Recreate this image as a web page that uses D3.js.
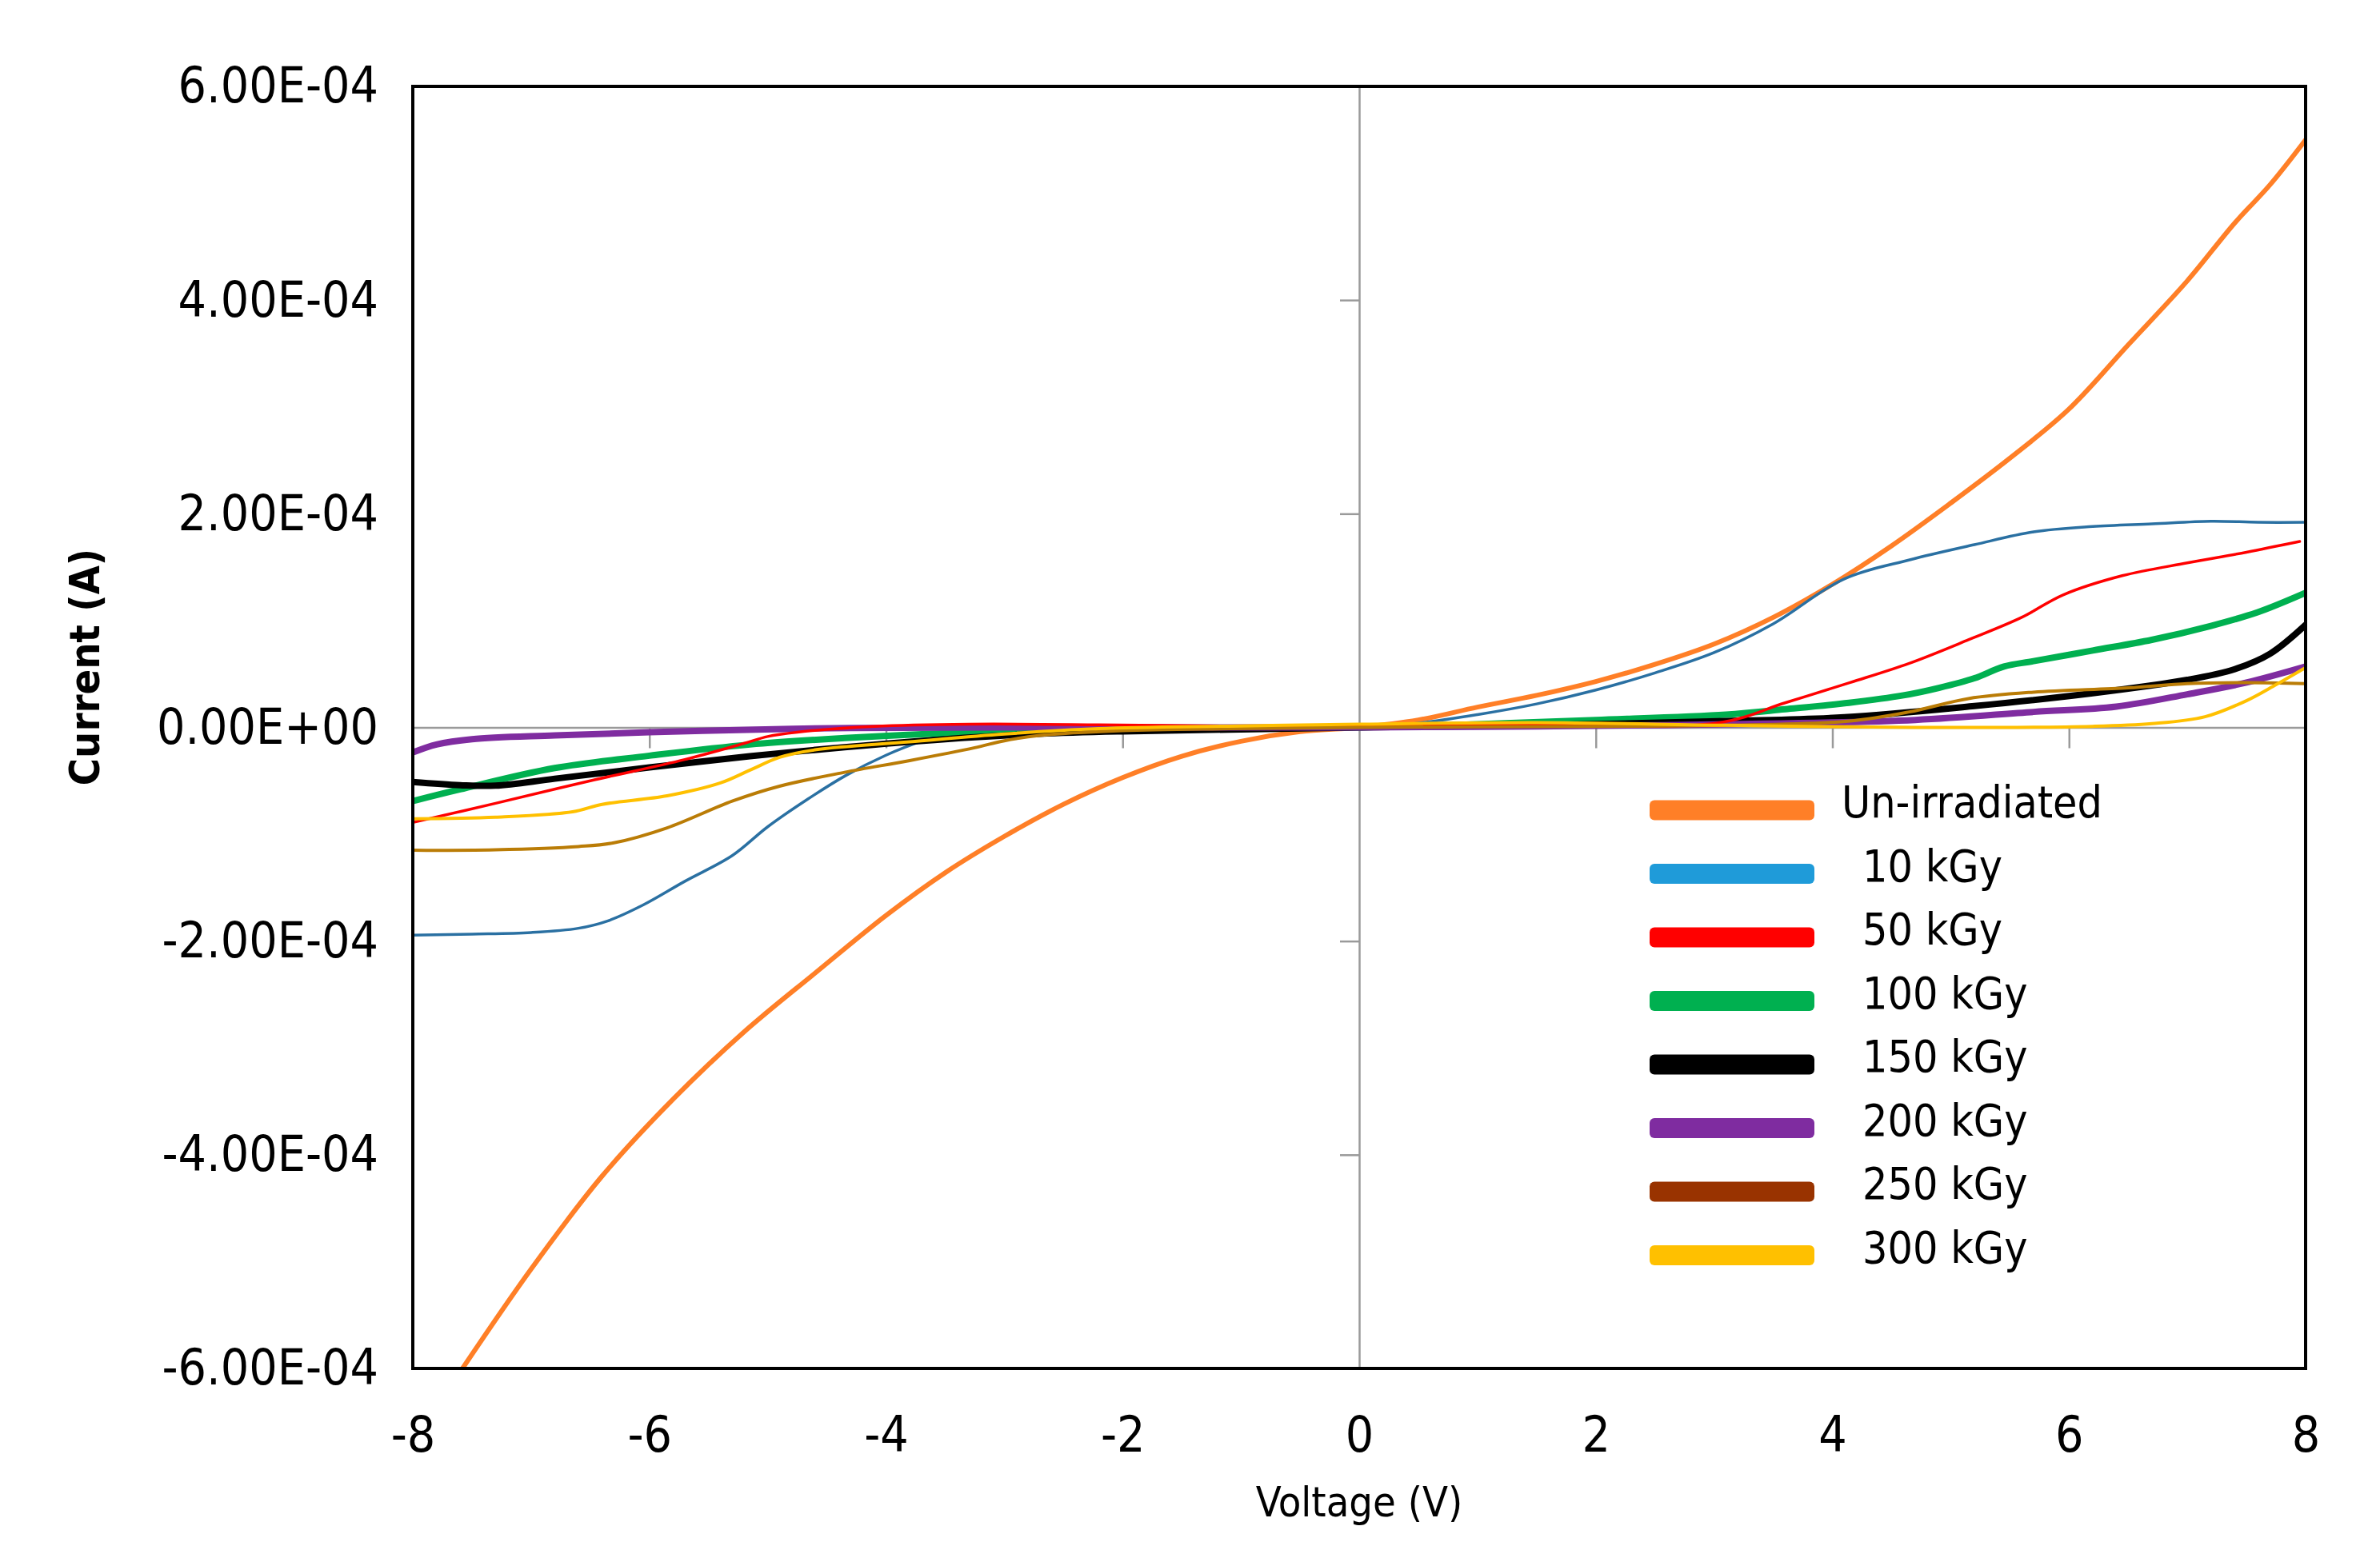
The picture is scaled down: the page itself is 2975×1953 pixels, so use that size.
<!DOCTYPE html>
<html><head><meta charset="utf-8">
<script src="https://cdn.jsdelivr.net/npm/d3@7"></script>
<style>
body{margin:0;background:#fff}
text{font-family:"DejaVu Sans Condensed","DejaVu Sans",sans-serif;fill:#000}
</style>
</head><body>
<svg id="chart" width="2975" height="1953"></svg>
<script>
// ---------------- DATA ----------------
const seriesNames = ["Un-irradiated", "10 kGy", "50 kGy", "100 kGy", "150 kGy", "200 kGy", "250 kGy", "300 kGy"];
const xTicks = [-8, -6, -4, -2, 0, 2, 4, 6, 8];
const xTickLabels = ["-8", "-6", "-4", "-2", "0", "2", "4", "6", "8"];
const yTicks = [-6e-4, -4e-4, -2e-4, 0, 2e-4, 4e-4, 6e-4];
const yTickLabels = ["-6.00E-04", "-4.00E-04", "-2.00E-04", "0.00E+00", "2.00E-04", "4.00E-04", "6.00E-04"];

// [voltage (V), current (A)]
const unirradiated = [[-7.58,-6.0e-4],[-7.0,-5.07e-4],[-6.4,-4.2e-4],[-5.8,-3.48e-4],[-5.2,-2.85e-4],[-4.6,-2.3e-4],[-4.0,-1.76e-4],[-3.5,-1.36e-4],[-3.0,-1.02e-4],[-2.5,-0.72e-4],[-2.0,-0.47e-4],[-1.5,-0.27e-4],[-1.0,-0.13e-4],[-0.5,-0.04e-4],[0,0],[0.5,0.07e-4],[1.0,0.19e-4],[1.5,0.3e-4],[2.0,0.43e-4],[2.5,0.59e-4],[3.0,0.78e-4],[3.5,1.03e-4],[4.0,1.34e-4],[4.5,1.7e-4],[5.0,2.1e-4],[5.5,2.52e-4],[6.0,2.98e-4],[6.5,3.58e-4],[7.0,4.18e-4],[7.4,4.72e-4],[7.7,5.08e-4],[8.0,5.5e-4]];
const kGy10 = [[-8,-1.945e-4],[-7.5,-1.935e-4],[-7.0,-1.92e-4],[-6.6,-1.88e-4],[-6.35,-1.81e-4],[-6.05,-1.66e-4],[-5.7,-1.44e-4],[-5.3,-1.2e-4],[-5.0,-0.93e-4],[-4.66,-0.67e-4],[-4.34,-0.45e-4],[-4.0,-0.26e-4],[-3.7,-0.13e-4],[-3.43,-0.05e-4],[-3.1,0.02e-4],[-2.5,-0.02e-4],[-2.0,-0.03e-4],[-1.0,-0.02e-4],[0,0],[0.5,0.04e-4],[1.0,0.12e-4],[1.5,0.22e-4],[2.0,0.35e-4],[2.5,0.51e-4],[3.0,0.7e-4],[3.5,0.97e-4],[4.1,1.39e-4],[4.66,1.57e-4],[5.2,1.71e-4],[5.7,1.83e-4],[6.2,1.88e-4],[6.7,1.905e-4],[7.2,1.93e-4],[7.6,1.92e-4],[8.0,1.92e-4]];
const kGy50 = [[-8,-0.89e-4],[-7.3,-0.71e-4],[-6.5,-0.5e-4],[-5.7,-0.3e-4],[-5.2,-0.15e-4],[-5.0,-0.085e-4],[-4.75,-0.045e-4],[-4.1,0.01e-4],[-3.3,0.03e-4],[-2.2,0.025e-4],[-1.1,0.012e-4],[0,0.01e-4],[1.5,0.03e-4],[3.05,0.045e-4],[3.6,0.23e-4],[4.15,0.42e-4],[4.65,0.6e-4],[5.15,0.82e-4],[5.6,1.03e-4],[5.95,1.24e-4],[6.45,1.42e-4],[7.0,1.54e-4],[7.5,1.64e-4],[7.95,1.74e-4]];
const kGy100 = [[-8,-0.69e-4],[-7.6,-0.58e-4],[-6.8,-0.38e-4],[-6.0,-0.265e-4],[-5.15,-0.16e-4],[-4.35,-0.1e-4],[-3.5,-0.055e-4],[-2.7,-0.03e-4],[-2.0,-0.017e-4],[0,0],[1.0,0.03e-4],[2.0,0.07e-4],[3.1,0.12e-4],[3.6,0.17e-4],[4.14,0.23e-4],[4.6,0.3e-4],[4.9,0.37e-4],[5.2,0.46e-4],[5.45,0.57e-4],[5.7,0.62e-4],[6.2,0.72e-4],[6.7,0.82e-4],[7.2,0.95e-4],[7.6,1.08e-4],[8.0,1.26e-4]];
const kGy150 = [[-8,-0.51e-4],[-7.6,-0.54e-4],[-7.3,-0.545e-4],[-6.8,-0.48e-4],[-6.0,-0.375e-4],[-5.15,-0.27e-4],[-4.35,-0.185e-4],[-3.5,-0.11e-4],[-2.7,-0.06e-4],[-2.0,-0.037e-4],[-1.1,-0.02e-4],[0,0],[1.5,0.02e-4],[3.1,0.06e-4],[4.1,0.095e-4],[5.2,0.2e-4],[6.2,0.32e-4],[7.0,0.445e-4],[7.4,0.545e-4],[7.7,0.69e-4],[8.0,0.96e-4]];
const kGy200 = [[-8,-0.235e-4],[-7.8,-0.16e-4],[-7.5,-0.11e-4],[-6.8,-0.075e-4],[-6.0,-0.045e-4],[-5.1,-0.02e-4],[-4.3,-0.005e-4],[-3.0,0],[0,0],[1.5,0.01e-4],[3.1,0.03e-4],[4.7,0.07e-4],[5.7,0.145e-4],[6.4,0.195e-4],[7.0,0.31e-4],[7.5,0.42e-4],[8.0,0.57e-4]];
const kGy250 = [[-8,-1.15e-4],[-7.3,-1.145e-4],[-6.6,-1.115e-4],[-6.3,-1.08e-4],[-5.85,-0.94e-4],[-5.3,-0.69e-4],[-4.9,-0.55e-4],[-4.35,-0.42e-4],[-3.8,-0.31e-4],[-3.25,-0.19e-4],[-3.0,-0.125e-4],[-2.7,-0.075e-4],[-2.0,-0.03e-4],[-1.1,-0.012e-4],[0,0],[2.0,0.01e-4],[3.1,0.02e-4],[4.15,0.06e-4],[4.65,0.145e-4],[5.15,0.27e-4],[5.7,0.33e-4],[6.5,0.37e-4],[7.0,0.41e-4],[7.5,0.42e-4],[8.0,0.41e-4]];
const kGy300 = [[-8,-0.855e-4],[-7.3,-0.84e-4],[-6.65,-0.79e-4],[-6.4,-0.72e-4],[-5.85,-0.64e-4],[-5.4,-0.52e-4],[-5.15,-0.4e-4],[-4.9,-0.28e-4],[-4.6,-0.21e-4],[-3.8,-0.135e-4],[-3.0,-0.062e-4],[-2.2,-0.012e-4],[-1.1,0.012e-4],[0,0.03e-4],[1.5,0.045e-4],[3.1,0.02e-4],[4.7,0.0],[6.2,0.01e-4],[6.7,0.035e-4],[7.15,0.1e-4],[7.5,0.25e-4],[7.75,0.4e-4],[8.0,0.56e-4]];

// ---------------- STYLE ----------------
const seriesData = [unirradiated, kGy10, kGy50, kGy100, kGy150, kGy200, kGy250, kGy300];
const lineColors = ["#FF7F27", "#2A70A2", "#FF0000", "#00B050", "#000000", "#7F2CA0", "#BA7C06", "#FFC000"];
const legendColors = ["#FF7F27", "#1F9BD9", "#FF0000", "#00B050", "#000000", "#7F2CA0", "#993300", "#FFC000"];
const lineWidths = [6, 3.5, 3.5, 8, 8, 8, 4, 4];
const drawOrder = [0, 1, 3, 4, 5, 2, 6, 7];

const W = 2975, H = 1953;
const L = 516, R = 2882, T = 108, B = 1711;
const svg = d3.select("#chart");
svg.append("rect").attr("width", W).attr("height", H).attr("fill", "#fff");

const x = d3.scaleLinear().domain([-8, 8]).range([L, R]);
const y = d3.scaleLinear().domain([-6e-4, 6e-4]).range([B, T]);

// zero axes (gray) with ticks
const gray = "#9a9a9a";
const zx = svg.append("g").attr("transform", `translate(0,${y(0)})`)
  .call(d3.axisBottom(x).tickValues(xTicks.filter(v => v !== 0 && Math.abs(v) !== 8)).tickSize(26).tickSizeOuter(0).tickFormat(""));
zx.select(".domain").attr("stroke", gray).attr("stroke-width", 2.5);
zx.selectAll(".tick line").attr("stroke", gray).attr("stroke-width", 2.5);

const zy = svg.append("g").attr("transform", `translate(${x(0)},0)`)
  .call(d3.axisLeft(y).tickValues(yTicks.filter(v => v !== 0 && Math.abs(v) < 5.9e-4)).tickSize(24).tickSizeOuter(0).tickFormat(""));
zy.select(".domain").attr("stroke", gray).attr("stroke-width", 2.5);
zy.selectAll(".tick line").attr("stroke", gray).attr("stroke-width", 2.5);

// curves
const clip = svg.append("clipPath").attr("id", "plotclip");
clip.append("rect").attr("x", L).attr("y", T).attr("width", R - L).attr("height", B - T);
const line = d3.line().x(d => x(d[0])).y(d => y(d[1])).curve(d3.curveCatmullRom.alpha(0.5));
const curves = svg.append("g").attr("clip-path", "url(#plotclip)");
drawOrder.forEach(i => {
  curves.append("path").datum(seriesData[i]).attr("d", line)
    .attr("fill", "none").attr("stroke", lineColors[i]).attr("stroke-width", lineWidths[i])
    .attr("stroke-linejoin", "round").attr("stroke-linecap", "round");
});

// frame
svg.append("rect").attr("x", L).attr("y", T).attr("width", R - L).attr("height", B - T)
  .attr("fill", "none").attr("stroke", "#000").attr("stroke-width", 4);

// tick label axes
const ax = svg.append("g").attr("transform", `translate(0,${B})`)
  .call(d3.axisBottom(x).tickValues(xTicks).tickSize(0).tickPadding(60).tickFormat((d, i) => xTickLabels[i]));
ax.select(".domain").remove();
ax.selectAll("text").attr("font-size", 62).attr("font-family", '"DejaVu Sans Condensed","DejaVu Sans",sans-serif').attr("fill", "#000");

const ay = svg.append("g").attr("transform", `translate(${L},0)`)
  .call(d3.axisLeft(y).tickValues(yTicks).tickSize(0).tickPadding(43).tickFormat((d, i) => yTickLabels[i]));
ay.select(".domain").remove();
ay.selectAll("text").attr("font-size", 62).attr("font-family", '"DejaVu Sans Condensed","DejaVu Sans",sans-serif').attr("fill", "#000");

// axis titles
svg.append("text").attr("x", (L + R) / 2).attr("y", 1896).attr("text-anchor", "middle")
  .attr("font-size", 52).text("Voltage (V)");
svg.append("text").attr("transform", `translate(106,834) rotate(-90)`)
  .attr("text-anchor", "middle").attr("dominant-baseline", "central")
  .attr("font-size", 52).attr("font-weight", "bold").text("Current (A)");

// legend
const leg = svg.append("g");
seriesNames.forEach((name, i) => {
  const cy = 1013 + i * 79.5;
  leg.append("rect").attr("x", 2062).attr("y", cy - 12.5).attr("width", 206).attr("height", 25)
    .attr("rx", 6).attr("fill", legendColors[i]);
  leg.append("text").attr("x", i === 0 ? 2302 : 2328).attr("y", cy + 9)
    .attr("font-size", 55).text(name);
});
</script>
</body></html>
